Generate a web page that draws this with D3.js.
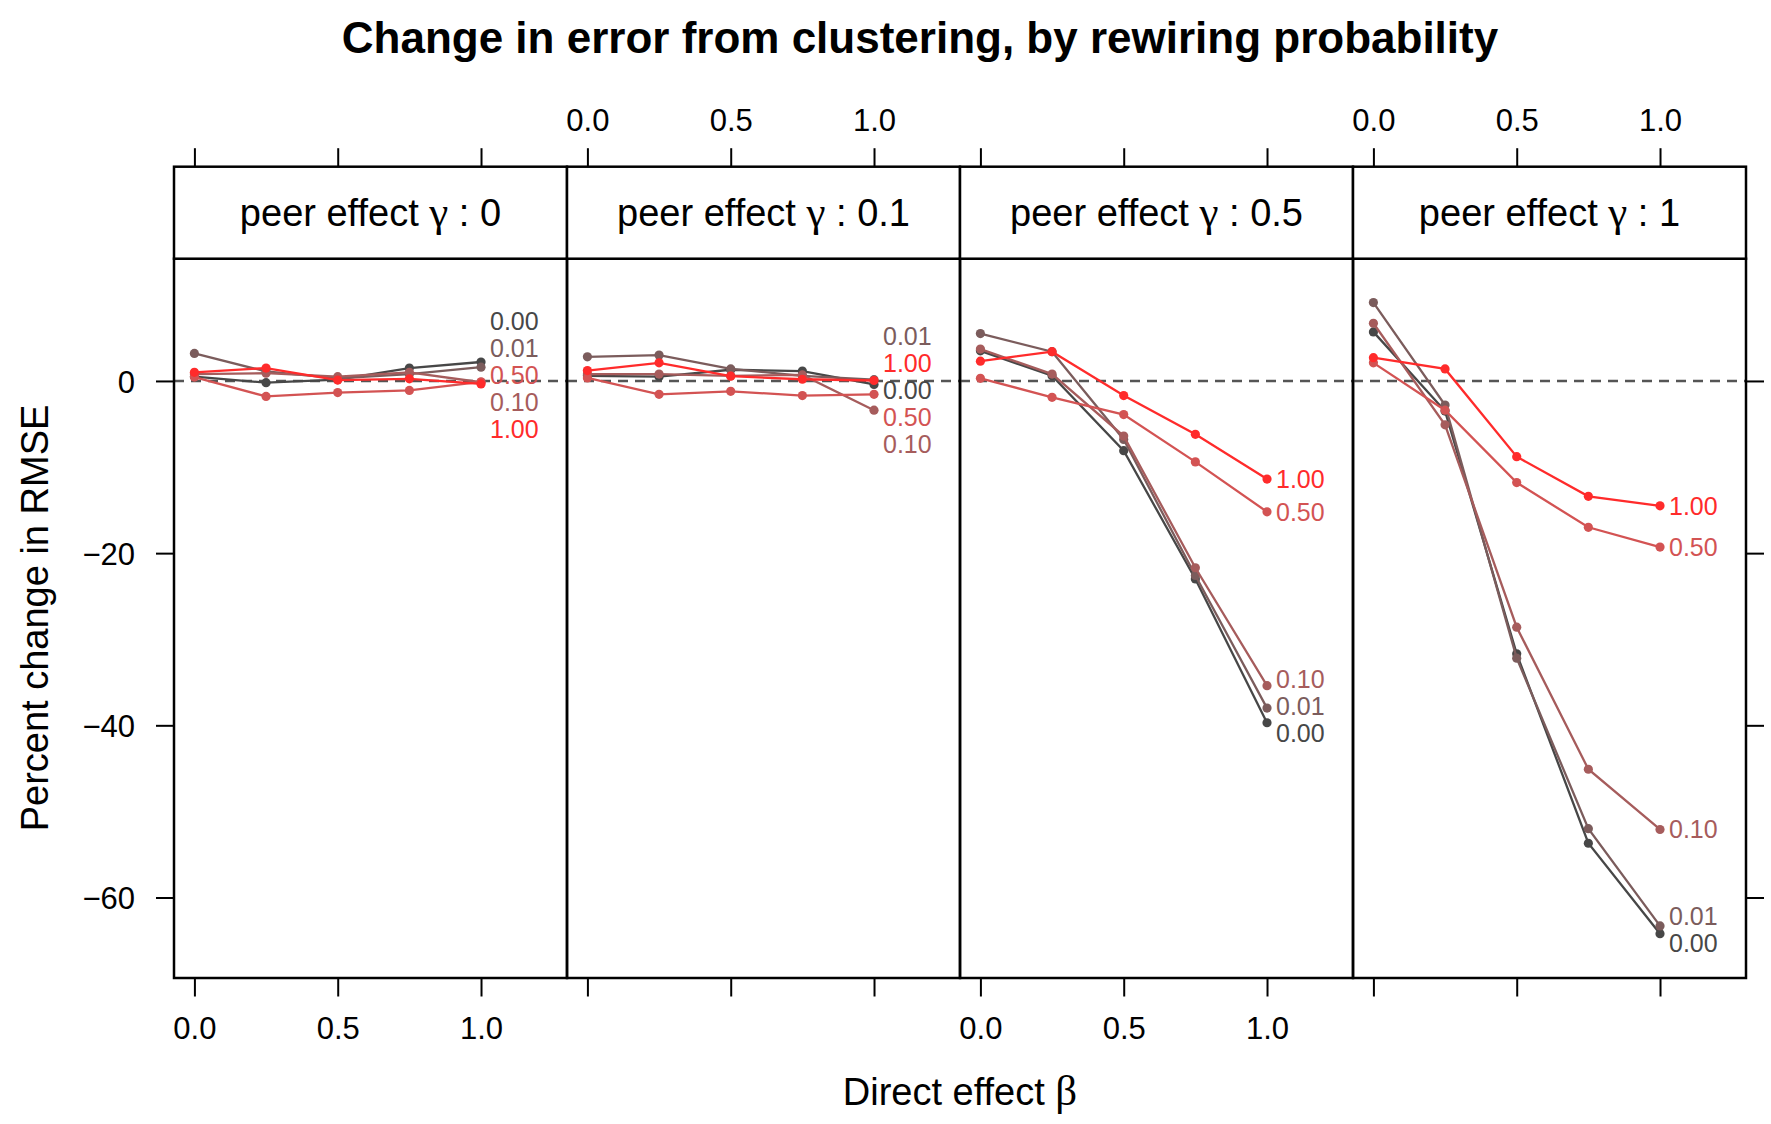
<!DOCTYPE html>
<html>
<head>
<meta charset="utf-8">
<script src="https://cdn.jsdelivr.net/npm/d3@7"></script>
<style>
  body { margin: 0; background: #fff; }
  text { font-family: "Liberation Sans", Arial, Helvetica, sans-serif; }
</style>
</head>
<body>
<main></main>
<script>
// peer effect levels (one panel each)
const gammas = ['0', '0.1', '0.5', '1'];
// direct effect beta on the x axis
const betas = [0, 0.25, 0.5, 0.75, 1];
// rewiring probability, one line each
const rewiring = ['0.00', '0.01', '0.10', '0.50', '1.00'];
const colors = ['#474747', '#7b5c5c', '#a65c5c', '#d35353', '#ff2b2b'];

// percent change in RMSE, per panel, per rewiring probability
const gamma0 = [
    [0.5, -0.2, 0.15, 1.5, 2.2],
    [3.2, 1.1, 0.3, 0.8, 1.6],
    [0.8, 0.9, 0.5, 1.0, -0.15],
    [0.45, -1.8, -1.35, -1.1, -0.1],
    [1.0, 1.5, 0.1, 0.25, -0.35]
];
const gamma01 = [
    [0.6, 0.5, 1.3, 1.15, -0.4],
    [2.8, 3.0, 1.4, 0.6, 0.15],
    [0.8, 0.8, 0.6, 0.7, -3.4],
    [0.35, -1.55, -1.2, -1.7, -1.55],
    [1.2, 2.1, 0.55, 0.2, 0.05]
];
const gamma05 = [
    [3.5, 0.6, -8.1, -23.0, -39.7],
    [5.5, 3.4, -6.8, -22.6, -38.0],
    [3.7, 0.8, -6.4, -21.7, -35.4],
    [0.3, -1.9, -3.9, -9.4, -15.2],
    [2.3, 3.4, -1.7, -6.2, -11.4]
];
const gamma1 = [
    [5.7, -3.5, -31.7, -53.7, -64.2],
    [9.1, -2.8, -32.2, -52.0, -63.3],
    [6.7, -5.1, -28.6, -45.1, -52.1],
    [2.1, -3.4, -11.8, -17.0, -19.3],
    [2.7, 1.4, -8.8, -13.4, -14.5]
];
const panelValues = [gamma0, gamma01, gamma05, gamma1];

const yTicks = [0, -20, -40, -60];
const xTicks = [0, 0.5, 1];

const W = 1771, H = 1124;
const left = 174, panelW = 393;
const stripTop = 166.7, panelTop = 258.7, panelBottom = 978;

const svg = d3.select('main')
    .append('svg')
    .attr('width', W)
    .attr('height', H);

const xScale = d3.scaleLinear().domain([-0.0712, 1.3]).range([0, panelW]);
const yScale = d3.scaleLinear().domain([-69.35, 14.2]).range([panelBottom - panelTop, 0]);

const line = d3.line()
    .x((d, i) => xScale(betas[i]))
    .y((d) => yScale(d));

// spread the direct labels apart so they do not overlap
const spread = (items, h) => {
    items.sort((a, b) => a.t - b.t);
    let groups = items.map((d) => ({ members: [d], c: d.t }));
    let merged = true;
    while (merged) {
        merged = false;
        for (let i = 0; i < groups.length - 1; i++) {
            const g = groups[i], n = groups[i + 1];
            const gEnd = g.c + (g.members.length - 1) * h / 2;
            const nStart = n.c - (n.members.length - 1) * h / 2;
            if (nStart - gEnd < h) {
                const members = g.members.concat(n.members);
                groups.splice(i, 2, { members: members, c: d3.mean(members, (m) => m.t) });
                merged = true;
                break;
            }
        }
    }
    groups.forEach((g) => {
        g.members.forEach((m, j) => {
            m.y = g.c + (j - (g.members.length - 1) / 2) * h;
        });
    });
    return items;
};

const styleAxis = (g) => {
    g.select('.domain').remove();
    g.selectAll('.tick line').attr('stroke', '#000').attr('stroke-width', 2);
    g.selectAll('.tick text').attr('fill', '#000').style('font-size', '31px');
};

panelValues.forEach((values, p) => {
    const g = svg.append('g')
        .attr('transform', `translate(${left + p * panelW}, ${panelTop})`);

    // zero reference line
    g.append('line')
        .attr('x1', 0).attr('x2', panelW)
        .attr('y1', yScale(0)).attr('y2', yScale(0))
        .attr('stroke', '#555')
        .attr('stroke-width', 2.4)
        .attr('stroke-dasharray', '10,7');

    values.forEach((series, s) => {
        g.append('path')
            .datum(series)
            .attr('d', line)
            .attr('fill', 'none')
            .attr('stroke', colors[s])
            .attr('stroke-width', 2.3);
        g.selectAll(`.pt${s}`)
            .data(series)
            .enter()
            .append('circle')
            .attr('cx', line.x())
            .attr('cy', line.y())
            .attr('r', 4.6)
            .attr('fill', colors[s]);
    });

    const labels = spread(values.map((series, s) => ({
        s: s,
        t: yScale(series[series.length - 1])
    })), 27);
    labels.forEach((d) => {
        g.append('text')
            .attr('x', xScale(1) + 9)
            .attr('y', d.y)
            .attr('dy', '0.36em')
            .attr('fill', colors[d.s])
            .style('font-size', '25px')
            .text(rewiring[d.s]);
    });

    // panel border
    g.append('rect')
        .attr('x', 0).attr('y', 0)
        .attr('width', panelW).attr('height', panelBottom - panelTop)
        .attr('fill', 'none')
        .attr('stroke', '#000')
        .attr('stroke-width', 2.5);

    // strip
    const strip = svg.append('g')
        .attr('transform', `translate(${left + p * panelW}, ${stripTop})`);
    strip.append('rect')
        .attr('width', panelW).attr('height', panelTop - stripTop)
        .attr('fill', '#fff')
        .attr('stroke', '#000')
        .attr('stroke-width', 2.5);
    const st = strip.append('text')
        .attr('x', panelW / 2)
        .attr('y', (panelTop - stripTop) / 2)
        .attr('dy', '0.36em')
        .attr('text-anchor', 'middle')
        .style('font-size', '38px');
    st.append('tspan').text('peer effect ');
    st.append('tspan').style('font-family', '"Liberation Serif", serif').style('font-size', '43px').text('γ');
    st.append('tspan').text(' : ' + gammas[p]);

    // top and bottom axes, labels alternate between panels
    const top = svg.append('g')
        .attr('transform', `translate(${left + p * panelW}, ${stripTop})`)
        .call(d3.axisTop(xScale).tickValues(xTicks).tickSize(18.5)
            .tickFormat(p % 2 === 1 ? d3.format('.1f') : () => ''))
        .call(styleAxis);
    top.selectAll('.tick text').attr('y', -46.7).attr('dy', '0.36em');

    const bottom = svg.append('g')
        .attr('transform', `translate(${left + p * panelW}, ${panelBottom})`)
        .call(d3.axisBottom(xScale).tickValues(xTicks).tickSize(18.5)
            .tickFormat(p % 2 === 0 ? d3.format('.1f') : () => ''))
        .call(styleAxis);
    bottom.selectAll('.tick text').attr('y', 50).attr('dy', '0.36em');
});

const yFormat = (d) => (d < 0 ? '\u2212' + Math.abs(d) : String(d));

svg.append('g')
    .attr('transform', `translate(${left}, ${panelTop})`)
    .call(d3.axisLeft(yScale).tickValues(yTicks).tickSize(18).tickPadding(21).tickFormat(yFormat))
    .call(styleAxis)
    .selectAll('.tick text').attr('dy', '0.36em');

svg.append('g')
    .attr('transform', `translate(${left + 4 * panelW}, ${panelTop})`)
    .call(d3.axisRight(yScale).tickValues(yTicks).tickSize(18).tickFormat(() => ''))
    .call(styleAxis);

// titles
svg.append('text')
    .attr('x', 920)
    .attr('y', 37)
    .attr('dy', '0.36em')
    .attr('text-anchor', 'middle')
    .style('font-size', '44px')
    .style('font-weight', 'bold')
    .text('Change in error from clustering, by rewiring probability');

const xl = svg.append('text')
    .attr('x', left + 2 * panelW)
    .attr('y', 1091)
    .attr('dy', '0.36em')
    .attr('text-anchor', 'middle')
    .style('font-size', '38px');
xl.append('tspan').text('Direct effect ');
xl.append('tspan').style('font-family', '"Liberation Serif", serif').style('font-size', '43px').text('β');

svg.append('text')
    .attr('transform', 'translate(34, 618) rotate(-90)')
    .attr('dy', '0.36em')
    .attr('text-anchor', 'middle')
    .style('font-size', '38px')
    .text('Percent change in RMSE');
</script>
</body>
</html>
